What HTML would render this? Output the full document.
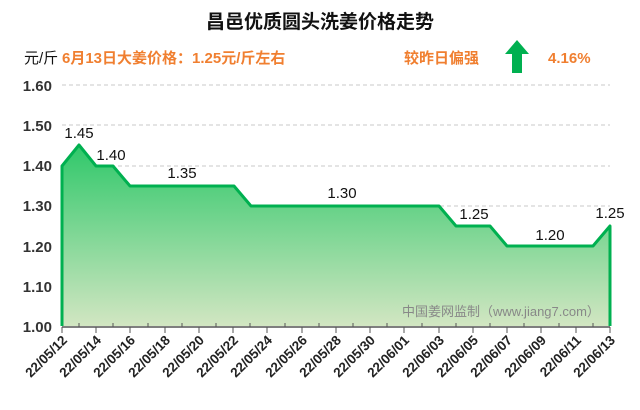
<!DOCTYPE html>
<html><head><meta charset="utf-8"><style>
html,body{margin:0;padding:0;background:#fff;}
svg{display:block;font-family:"Liberation Sans","Noto Sans CJK SC",sans-serif;}
</style></head><body>
<svg width="640" height="410" viewBox="0 0 640 410" xmlns="http://www.w3.org/2000/svg">
<defs>
<linearGradient id="g" x1="0" y1="0" x2="0" y2="1">
<stop offset="0" stop-color="#2fc86a"/>
<stop offset="1" stop-color="#d2e6c2"/>
</linearGradient>
</defs>
<text x="320" y="28" text-anchor="middle" font-size="19" font-weight="bold" fill="#111">昌邑优质圆头洗姜价格走势</text>
<text x="24" y="63" font-size="15" fill="#111">元/斤</text>
<text x="62" y="63" font-size="15" font-weight="bold" fill="#f07f30">6月13日大姜价格：1.25元/斤左右</text>
<text x="404" y="63" font-size="15" font-weight="bold" fill="#f07f30">较昨日偏强</text>
<polygon points="517,40 505,54 512,54 512,73 522,73 522,54 529,54" fill="#00b050"/>
<text x="548" y="63" font-size="15" font-weight="bold" fill="#f07f30">4.16%</text>
<g font-size="15" font-weight="bold" fill="#333" text-anchor="end">
<text x="52" y="91">1.60</text><text x="52" y="131">1.50</text><text x="52" y="171">1.40</text>
<text x="52" y="211">1.30</text><text x="52" y="252">1.20</text><text x="52" y="292">1.10</text><text x="52" y="332">1.00</text>
</g>
<g stroke="#c8c8c8" stroke-dasharray="4,3" stroke-width="1">
<line x1="62" y1="85" x2="610" y2="85"/><line x1="62" y1="125" x2="610" y2="125"/><line x1="62" y1="166" x2="610" y2="166"/>
<line x1="62" y1="206" x2="610" y2="206"/><line x1="62" y1="246" x2="610" y2="246"/><line x1="62" y1="286" x2="610" y2="286"/>
</g>
<polygon points="62,326 62,166 79,145 96,166 113,166 130,186 234,186 251,206 439,206 456,226 490,226 507,246 593,246 610,226 610,326" fill="url(#g)"/>
<polyline points="62,326 62,166 79,145 96,166 113,166 130,186 234,186 251,206 439,206 456,226 490,226 507,246 593,246 610,226 610,326" fill="none" stroke="#00b050" stroke-width="3" stroke-linejoin="round"/>
<line x1="62" y1="327" x2="610" y2="327" stroke="#555" stroke-width="1.5"/>
<g font-size="15" fill="#111" text-anchor="middle">
<text x="79" y="138">1.45</text><text x="111" y="160">1.40</text><text x="182" y="178">1.35</text>
<text x="342" y="198">1.30</text><text x="474" y="219">1.25</text><text x="550" y="240">1.20</text><text x="610" y="218">1.25</text>
</g>
<text x="402" y="316" font-size="13" fill="#888">中国姜网监制（www.jiang7.com）</text>
<g stroke="#555" stroke-width="1">
<line x1="62" y1="327" x2="62" y2="333"/><line x1="96" y1="327" x2="96" y2="333"/><line x1="130" y1="327" x2="130" y2="333"/>
<line x1="165" y1="327" x2="165" y2="333"/><line x1="199" y1="327" x2="199" y2="333"/><line x1="233" y1="327" x2="233" y2="333"/>
<line x1="267" y1="327" x2="267" y2="333"/><line x1="302" y1="327" x2="302" y2="333"/><line x1="336" y1="327" x2="336" y2="333"/>
<line x1="370" y1="327" x2="370" y2="333"/><line x1="404" y1="327" x2="404" y2="333"/><line x1="439" y1="327" x2="439" y2="333"/>
<line x1="473" y1="327" x2="473" y2="333"/><line x1="507" y1="327" x2="507" y2="333"/><line x1="541" y1="327" x2="541" y2="333"/>
<line x1="576" y1="327" x2="576" y2="333"/><line x1="610" y1="327" x2="610" y2="333"/>
</g>
<g stroke="#555" stroke-width="1">
<line x1="79" y1="323" x2="79" y2="327"/><line x1="113" y1="323" x2="113" y2="327"/><line x1="148" y1="323" x2="148" y2="327"/>
<line x1="182" y1="323" x2="182" y2="327"/><line x1="216" y1="323" x2="216" y2="327"/><line x1="250" y1="323" x2="250" y2="327"/>
<line x1="285" y1="323" x2="285" y2="327"/><line x1="319" y1="323" x2="319" y2="327"/><line x1="353" y1="323" x2="353" y2="327"/>
<line x1="387" y1="323" x2="387" y2="327"/><line x1="422" y1="323" x2="422" y2="327"/><line x1="456" y1="323" x2="456" y2="327"/>
<line x1="490" y1="323" x2="490" y2="327"/><line x1="524" y1="323" x2="524" y2="327"/><line x1="559" y1="323" x2="559" y2="327"/>
<line x1="593" y1="323" x2="593" y2="327"/>
</g>
<g font-size="13.5" font-weight="bold" fill="#222" text-anchor="end">
<text transform="translate(68,341) rotate(-45)">22/05/12</text>
<text transform="translate(102,341) rotate(-45)">22/05/14</text>
<text transform="translate(136,341) rotate(-45)">22/05/16</text>
<text transform="translate(171,341) rotate(-45)">22/05/18</text>
<text transform="translate(205,341) rotate(-45)">22/05/20</text>
<text transform="translate(239,341) rotate(-45)">22/05/22</text>
<text transform="translate(273,341) rotate(-45)">22/05/24</text>
<text transform="translate(308,341) rotate(-45)">22/05/26</text>
<text transform="translate(342,341) rotate(-45)">22/05/28</text>
<text transform="translate(376,341) rotate(-45)">22/05/30</text>
<text transform="translate(410,341) rotate(-45)">22/06/01</text>
<text transform="translate(445,341) rotate(-45)">22/06/03</text>
<text transform="translate(479,341) rotate(-45)">22/06/05</text>
<text transform="translate(513,341) rotate(-45)">22/06/07</text>
<text transform="translate(547,341) rotate(-45)">22/06/09</text>
<text transform="translate(582,341) rotate(-45)">22/06/11</text>
<text transform="translate(616,341) rotate(-45)">22/06/13</text>
</g>
</svg>
</body></html>
